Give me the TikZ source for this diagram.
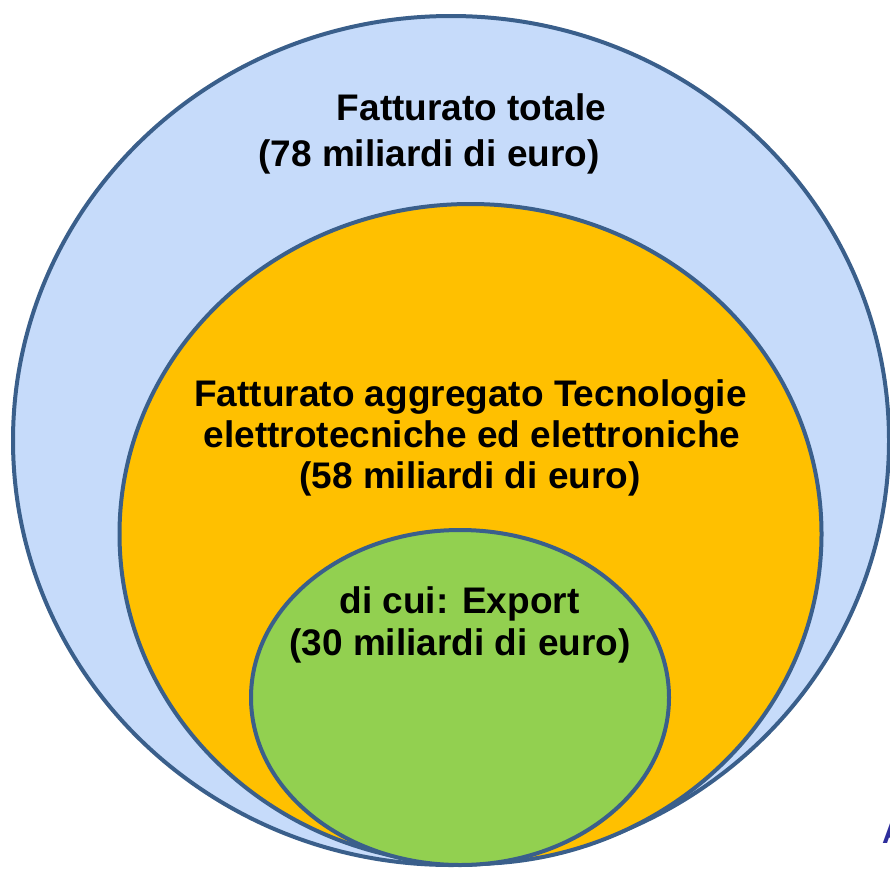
\documentclass[tikz,border=0pt]{standalone}
\usepackage{fontspec}
\setmainfont{Liberation Sans}
\definecolor{outerfill}{HTML}{C6DBFA}
\definecolor{midfill}{HTML}{FFC000}
\definecolor{innerfill}{HTML}{92D050}
\definecolor{edgecol}{HTML}{3A5F8B}
\definecolor{letterblue}{HTML}{2E2E9C}
\tikzset{
  ring/.style={draw=edgecol, line width=4pt},
  lbl/.style={anchor=base, inner sep=0pt, font=\fontsize{37}{44}\selectfont\bfseries, text=black}
}
\begin{document}
\begin{tikzpicture}[x=1pt,y=-1pt]
\useasboundingbox (0,0) rectangle (890,870);
\begin{scope}
\clip (0,0) rectangle (890,870);
\draw[ring, fill=outerfill] (451,440.5) ellipse [x radius=438pt, y radius=424.5pt];
\draw[ring, fill=midfill] (470.5,534) ellipse [x radius=351pt, y radius=330pt];
\draw[ring, fill=innerfill] (460,697.5) ellipse [x radius=209pt, y radius=167.5pt];
\node[anchor=base west, inner sep=0pt, font=\fontsize{30}{36}\selectfont\bfseries, text=letterblue] (cutA) at (882,843) {A};
\end{scope}
\node[lbl] (t1) at (471.5,120) {Fatturato totale};
\node[lbl] (t2) at (429,166) {(78 miliardi di euro)};
\node[lbl] (m1) at (470.5,406) {Fatturato aggregato Tecnologie};
\node[lbl] (m2) at (472,447) {elettrotecniche ed elettroniche};
\node[lbl] (m3) at (470,488) {(58 miliardi di euro)};
\node[lbl] (g1) at (459.5,613) {di cui: Export};
\node[lbl] (g2) at (460,655) {(30 miliardi di euro)};
\end{tikzpicture}
\end{document}
